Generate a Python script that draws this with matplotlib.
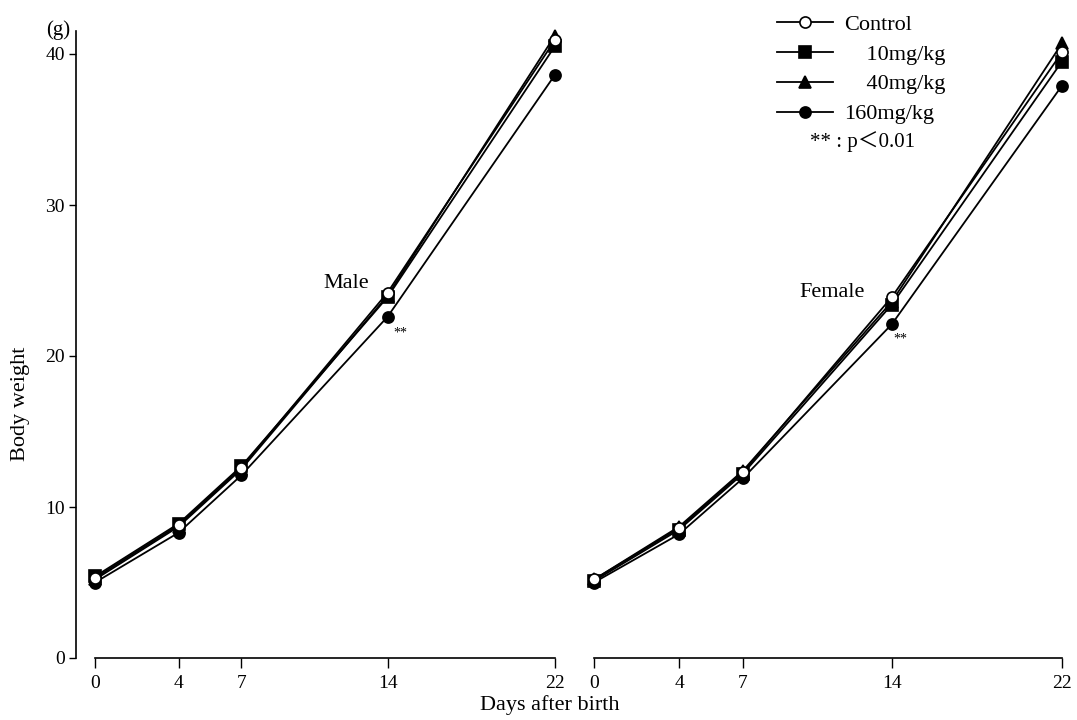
import matplotlib
matplotlib.use("Agg")
import matplotlib.pyplot as plt

plt.rcParams['font.family'] = ['Liberation Serif', 'DejaVu Serif']

days = [0, 4, 7, 14, 22]
groups = ['Control', '10mg/kg', '40mg/kg', '160mg/kg']

# body weight (g)
male = {
    'Control':  [5.3, 8.8, 12.6, 24.2, 40.9],
    '10mg/kg':  [5.4, 8.9, 12.7, 23.9, 40.5],
    '40mg/kg':  [5.2, 8.7, 12.5, 24.0, 41.2],
    '160mg/kg': [5.0, 8.3, 12.1, 22.6, 38.6],
}
female = {
    'Control':  [5.2, 8.6, 12.3, 23.9, 40.1],
    '10mg/kg':  [5.1, 8.5, 12.2, 23.4, 39.5],
    '40mg/kg':  [5.2, 8.7, 12.4, 23.6, 40.7],
    '160mg/kg': [5.0, 8.2, 11.9, 22.1, 37.9],
}

styles = {
    'Control':  dict(marker='o', mfc='white'),
    '10mg/kg':  dict(marker='s', mfc='black'),
    '40mg/kg':  dict(marker='^', mfc='black'),
    '160mg/kg': dict(marker='o', mfc='black'),
}
legend_labels = ['Control', '    10mg/kg', '    40mg/kg', '160mg/kg']
draw_order = ['160mg/kg', '40mg/kg', '10mg/kg', 'Control']

W, H = 1077, 720
fig = plt.figure(figsize=(W / 100, H / 100), dpi=100)

y_bot, y_top = 658, 31.35
axL = fig.add_axes([76 / W, (H - y_bot) / H, (561 - 76) / W, (y_bot - y_top) / H])
axR = fig.add_axes([583.4 / W, (H - y_bot) / H, (1068.3 - 583.4) / W, (y_bot - y_top) / H])

handles = {}
for ax, data in [(axL, male), (axR, female)]:
    for g in draw_order:
        ln, = ax.plot(days, data[g], color='black', lw=1.3, mec='black', mew=1.2,
                      ms=8, clip_on=False, **styles[g])
        handles[g] = ln
    ax.set_ylim(0, 41.5)
    ax.set_xticks(days)
    ax.spines['top'].set_visible(False)
    ax.spines['right'].set_visible(False)
    ax.spines['bottom'].set_bounds(0, 22)
    ax.spines['bottom'].set_linewidth(1.2)
    ax.tick_params(axis='x', direction='out', length=7, width=1, labelsize=14, pad=5)
    ax.set_facecolor('none')

axL.set_xlim(-0.91, 22.3)
axR.set_xlim(-0.5, 22.3)

axL.spines['left'].set_bounds(0, 41.5)
axL.spines['left'].set_linewidth(1.2)
axL.set_yticks([0, 10, 20, 30, 40])
axL.tick_params(axis='y', direction='out', length=5, width=1, labelsize=14, pad=3)
axL.set_ylabel('Body weight', fontsize=16)
axL.yaxis.set_label_coords(-0.095, 0.405)
axL.text(-1.2, 41.6, '(g)', fontsize=15, ha='right', va='center')

axR.spines['left'].set_visible(False)
axR.set_yticks([])

axL.text(12.0, 24.8, 'Male', fontsize=16, ha='center', va='center')
axL.text(14.6, 21.5, '**', fontsize=10, ha='center', va='center')
axR.text(11.2, 24.2, 'Female', fontsize=16, ha='center', va='center')
axR.text(14.4, 21.1, '**', fontsize=10, ha='center', va='center')

fig.text(550 / W, 1 - 705 / H, 'Days after birth', fontsize=16, ha='center', va='center')

leg = fig.legend([handles[g] for g in groups], legend_labels,
                 loc='upper left', bbox_to_anchor=(766 / W, 1 - 3 / H),
                 frameon=False, fontsize=16, handlelength=2.5,
                 handletextpad=0.5, labelspacing=0.42, borderpad=0)
fig.text(810 / W, 1 - 142 / H, '** : p＜0.01', fontsize=15, va='center',
         family=['Liberation Serif', 'Noto Sans CJK JP'])

fig.savefig('out.png', dpi=100)
